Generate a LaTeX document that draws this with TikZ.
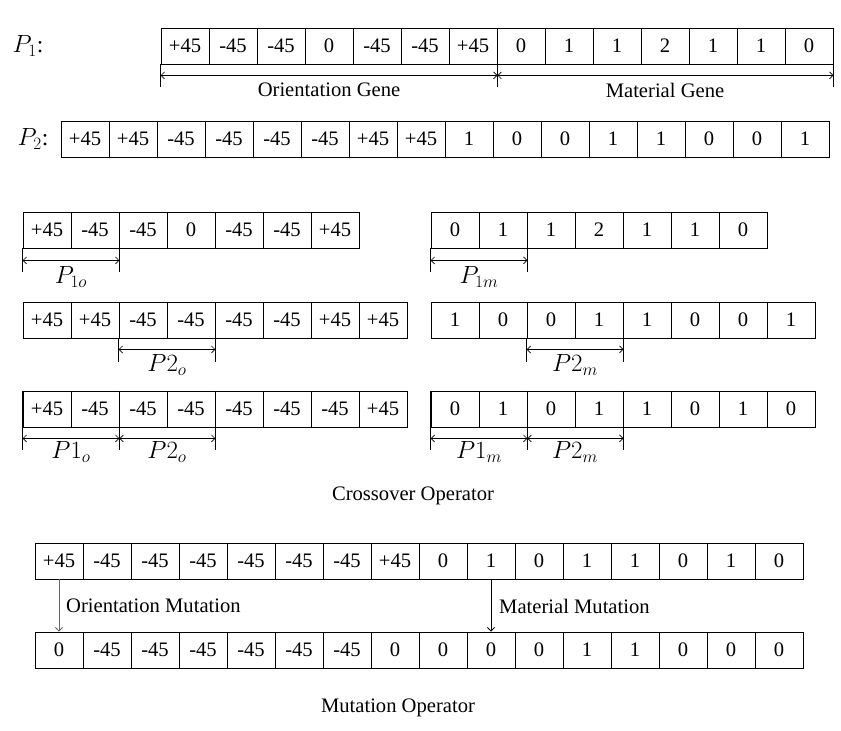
\documentclass[tikz,border=0pt]{standalone}
\usepackage{fontspec}
\setmainfont{Liberation Serif}
\usetikzlibrary{calc,arrows.meta}
\newcommand\cellfont{\fontsize{20.6}{24}\selectfont}
\newcommand\mathlabfont{\fontsize{23.5}{28}\selectfont}
\newcommand\generow[4]{%
  \foreach \v [count=\i] in {#4} {
    \node[cell] (#1-\i) at ({#2+24+48*(\i-1)}, #3) {\v};
  }%
}
\begin{document}
\begin{tikzpicture}[x=1pt, y=-1pt,
  cell/.style={draw, line width=0.8pt, minimum width=48pt, minimum height=36pt, inner sep=0pt, font=\cellfont},
  lbl/.style={font=\cellfont, inner sep=0pt},
  mlbl/.style={font=\mathlabfont, inner sep=0pt},
  tick/.style={line width=0.7pt},
  dim/.style={line width=0.7pt, {Straight Barb[length=3.5pt,width=7pt]}-{Straight Barb[length=3.5pt,width=7pt]}},
  mut/.style={line width=0.9pt, -{Straight Barb[length=3.5pt,width=7pt]}}]
\useasboundingbox (0,0) rectangle (841,731);

% Parent rows
\node[mlbl] (p1lab) at (28,46) {$P_1$:};
\generow{pa}{161}{46}{+45,-45,-45,0,-45,-45,+45,0,1,1,2,1,1,0}
\node[mlbl] (p2lab) at (33,139) {$P_2$:};
\generow{pb}{61}{139}{+45,+45,-45,-45,-45,-45,+45,+45,1,0,0,1,1,0,0,1}

% gene brackets
\draw[tick] (pa-1.south west) -- ++(0,23);
\draw[tick] (pa-7.south east) -- ++(0,23);
\draw[tick] (pa-14.south east) -- ++(0,23);
\coordinate (g0) at ($(pa-1.south west)+(0,11)$);
\coordinate (g1) at ($(pa-7.south east)+(0,11)$);
\coordinate (g2) at ($(pa-14.south east)+(0,11)$);
\draw[dim] (g0) -- (g1);
\draw[dim] (g1) -- (g2);
\node[lbl] (og) at (329,90) {Orientation Gene};
\node[lbl] (mg) at (665,90) {Material Gene};

% Crossover left
\generow{ca}{23}{230}{+45,-45,-45,0,-45,-45,+45}
\generow{cb}{23}{320}{+45,+45,-45,-45,-45,-45,+45,+45}
\generow{cc}{23}{409}{+45,-45,-45,-45,-45,-45,-45,+45}
% Crossover right
\generow{da}{431}{230}{0,1,1,2,1,1,0}
\generow{db}{431}{320}{1,0,0,1,1,0,0,1}
\generow{dc}{431}{409}{0,1,0,1,1,0,1,0}

% row 1 brackets
\draw[tick] (ca-1.south west) -- ++(0,24);
\draw[tick] (ca-2.south east) -- ++(0,24);
\coordinate (a0) at ($(ca-1.south west)+(0,12)$);
\coordinate (a1) at ($(ca-2.south east)+(0,12)$);
\draw[dim] (a0) -- (a1);
\node[mlbl] (p1o) at (71,277) {$P_{1o}$};

\draw[tick] (da-1.south west) -- ++(0,24);
\draw[tick] (da-2.south east) -- ++(0,24);
\coordinate (b0) at ($(da-1.south west)+(0,12)$);
\coordinate (b1) at ($(da-2.south east)+(0,12)$);
\draw[dim] (b0) -- (b1);
\node[mlbl] (p1m) at (479,277) {$P_{1m}$};

% row 2 brackets
\draw[tick] (cb-3.south west) -- ++(0,24);
\draw[tick] (cb-4.south east) -- ++(0,24);
\coordinate (c0) at ($(cb-3.south west)+(0,11)$);
\coordinate (c1) at ($(cb-4.south east)+(0,11)$);
\draw[dim] (c0) -- (c1);
\node[mlbl] (p2o) at (167,365) {$P2_o$};

\draw[tick] (db-3.south west) -- ++(0,24);
\draw[tick] (db-4.south east) -- ++(0,24);
\coordinate (e0) at ($(db-3.south west)+(0,11)$);
\coordinate (e1) at ($(db-4.south east)+(0,11)$);
\draw[dim] (e0) -- (e1);
\node[mlbl] (p2m) at (575,365) {$P2_m$};

% row 3 brackets
\draw[tick] (cc-1.north west) -- ++(0,59);
\draw[tick] (cc-2.north east) -- ++(0,59);
\draw[tick] (cc-4.north east) -- ++(0,59);
\coordinate (f0) at ($(cc-1.south west)+(0,11)$);
\coordinate (f1) at ($(cc-2.south east)+(0,11)$);
\coordinate (f2) at ($(cc-4.south east)+(0,11)$);
\draw[dim] (f0) -- (f1);
\draw[dim] (f1) -- (f2);
\node[mlbl] (p1ob) at (71,452) {$P1_o$};
\node[mlbl] (p2ob) at (167,452) {$P2_o$};

\draw[tick] (dc-1.north west) -- ++(0,59);
\draw[tick] (dc-2.north east) -- ++(0,59);
\draw[tick] (dc-4.north east) -- ++(0,59);
\coordinate (h0) at ($(dc-1.south west)+(0,11)$);
\coordinate (h1) at ($(dc-2.south east)+(0,11)$);
\coordinate (h2) at ($(dc-4.south east)+(0,11)$);
\draw[dim] (h0) -- (h1);
\draw[dim] (h1) -- (h2);
\node[mlbl] (p1mb) at (479,452) {$P1_m$};
\node[mlbl] (p2mb) at (575,452) {$P2_m$};

\node[lbl] (cop) at (413,496) {Crossover Operator};

% Mutation
\generow{ma}{35}{561}{+45,-45,-45,-45,-45,-45,-45,+45,0,1,0,1,1,0,1,0}
\generow{mb}{35}{650}{0,-45,-45,-45,-45,-45,-45,0,0,0,0,1,1,0,0,0}
\draw[mut, black!60] (ma-1.south) -- (mb-1.north);
\draw[mut] (ma-10.south) -- (mb-10.north);
\node[lbl, anchor=west] (om) at (66,606) {Orientation Mutation};
\node[lbl, anchor=west] (mm) at (499,606) {Material Mutation};

\node[lbl] (mop) at (398,708) {Mutation Operator};
\end{tikzpicture}
\end{document}
